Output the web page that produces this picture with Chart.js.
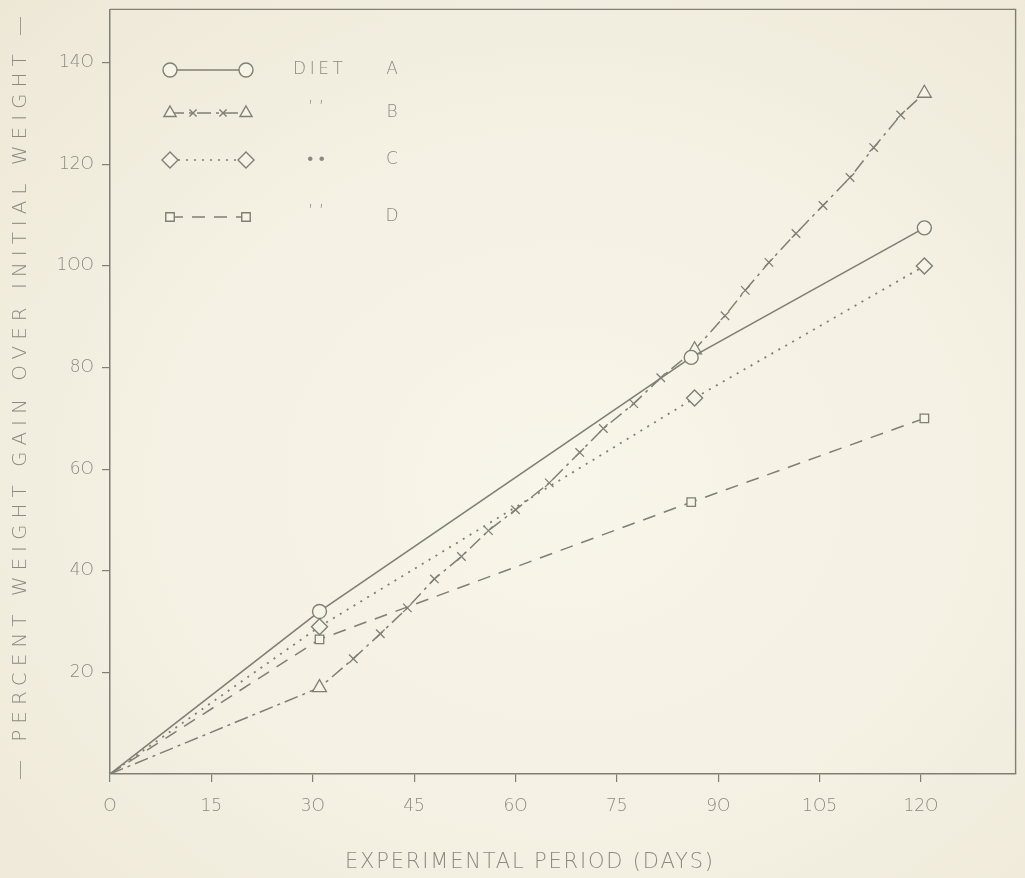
<!DOCTYPE html>
<html>
<head>
<meta charset="utf-8">
<script src="https://cdn.jsdelivr.net/npm/chart.js@4.4.1/dist/chart.umd.min.js"></script>
<style>
    html, body {
        margin: 0;
        padding: 0;
        width: 1025px;
        height: 878px;
        overflow: hidden;
        background: radial-gradient(ellipse at 55% 55%, #f8f5ea 0%, #f4f0e2 55%, #ede8d6 100%);
    }
    #wrap { position: relative; width: 1025px; height: 878px; }
</style>
</head>
<body>
<div id="wrap"><canvas id="gainChart" width="1025" height="878"></canvas></div>
<script>
// values
const xTicks = [0, 15, 30, 45, 60, 75, 90, 105, 120];
const yTicks = [20, 40, 60, 80, 100, 120, 140];

const dietADays = [0, 31, 86, 120.5];
const dietAGain = [0, 32, 82, 107.5];

const dietBDays = [0, 31, 36, 40, 44, 48, 52, 56, 60, 65, 69.5, 73, 77.5, 81.5, 86.5, 91, 94, 97.5, 101.5, 105.5, 109.5, 113, 117, 120.5];
const dietBGain = [0, 17, 22.7, 27.6, 32.7, 38.4, 42.8, 47.9, 52, 57.3, 63.3, 68, 72.9, 78, 83.5, 90.2, 95.2, 100.7, 106.4, 111.9, 117.4, 123.3, 129.7, 134];
const dietBMarked = [31, 86.5, 120.5];

const dietCDays = [0, 31, 86.5, 120.5];
const dietCGain = [0, 29, 74, 100];

const dietDDays = [0, 31, 86, 120.5];
const dietDGain = [0, 26.5, 53.5, 70];

const legendRows = [
    { name: 'DIET', letter: 'A' },
    { name: '\u2019 \u2019', letter: 'B' },
    { name: '\u2022 \u2022', letter: 'C' },
    { name: '\u2019 \u2019', letter: 'D' }
];

const ink = '#7f7f76';
const paper = '#f6f3e7';
const textInk = '#8a8a81';
const fontFamily = '"DejaVu Sans", "Liberation Sans", sans-serif';

function toPoints(days, gain) {
    return days.map((d, i) => ({ x: d, y: gain[i] }));
}

const dashA = [];
const dashB = [14, 5, 3, 5];
const dashC = [2, 6];
const dashD = [13, 9];

const datasets = [
    {
        label: 'Diet A',
        data: toPoints(dietADays, dietAGain),
        borderColor: ink,
        borderWidth: 1.6,
        borderDash: dashA,
        pointStyle: 'circle',
        pointRadius: ctx => ctx.dataIndex === 0 ? 0 : 7,
        pointBackgroundColor: paper,
        pointBorderColor: ink,
        pointBorderWidth: 1.4
    },
    {
        label: 'Diet B',
        data: toPoints(dietBDays, dietBGain),
        borderColor: ink,
        borderWidth: 1.5,
        borderDash: dashB,
        pointStyle: ctx => dietBMarked.includes(dietBDays[ctx.dataIndex]) ? 'triangle' : 'crossRot',
        pointRadius: ctx => {
            if (ctx.dataIndex === 0) return 0;
            return dietBMarked.includes(dietBDays[ctx.dataIndex]) ? 8 : 6;
        },
        pointBackgroundColor: paper,
        pointBorderColor: ink,
        pointBorderWidth: 1.3
    },
    {
        label: 'Diet C',
        data: toPoints(dietCDays, dietCGain),
        borderColor: ink,
        borderWidth: 1.8,
        borderDash: dashC,
        pointStyle: 'rectRot',
        pointRadius: ctx => ctx.dataIndex === 0 ? 0 : 8,
        pointBackgroundColor: paper,
        pointBorderColor: ink,
        pointBorderWidth: 1.4
    },
    {
        label: 'Diet D',
        data: toPoints(dietDDays, dietDGain),
        borderColor: ink,
        borderWidth: 1.5,
        borderDash: dashD,
        pointStyle: 'rect',
        pointRadius: ctx => ctx.dataIndex === 0 ? 0 : 6,
        pointBackgroundColor: paper,
        pointBorderColor: ink,
        pointBorderWidth: 1.3
    }
];

// spaced out text like a lettering guide
function spacedText(ctx, text, x, y, targetWidth) {
    ctx.letterSpacing = '0px';
    const plain = ctx.measureText(text).width;
    const gap = Math.max(0, (targetWidth - plain) / (text.length - 1));
    ctx.letterSpacing = gap + 'px';
    ctx.fillText(text, x + gap / 2, y);
    ctx.letterSpacing = '0px';
}

const framePlugin = {
    id: 'frame',
    afterDraw(chart) {
        const { ctx, chartArea } = chart;
        ctx.save();
        ctx.strokeStyle = ink;
        ctx.lineWidth = 1.4;
        ctx.beginPath();
        ctx.moveTo(chartArea.left, chartArea.top);
        ctx.lineTo(chartArea.right, chartArea.top);
        ctx.lineTo(chartArea.right, chartArea.bottom);
        ctx.stroke();

        // axis titles
        ctx.fillStyle = textInk;
        ctx.textBaseline = 'middle';
        ctx.textAlign = 'center';
        ctx.font = '300 21px ' + fontFamily;
        spacedText(ctx, 'EXPERIMENTAL PERIOD (DAYS)', 529, 863, 368);

        ctx.save();
        ctx.translate(21, 398);
        ctx.rotate(-Math.PI / 2);
        ctx.font = '300 20px ' + fontFamily;
        spacedText(ctx, '\u2014 PERCENT WEIGHT GAIN OVER INITIAL WEIGHT \u2014', 0, 0, 764);
        ctx.restore();

        // legend
        const rowsY = [70, 113, 160, 217];
        const xs = [170, 246];
        const drawMark = (style, r, x, y) => {
            Chart.helpers.drawPoint(ctx, {
                pointStyle: style, radius: r, borderWidth: 1.3, rotation: 0
            }, x, y);
        };
        ctx.strokeStyle = ink;
        ctx.fillStyle = paper;
        const styles = [
            ['circle', 7, dashA],
            ['triangle', 7, dashB],
            ['rectRot', 8, dashC],
            ['rect', 6, dashD]
        ];
        styles.forEach((s, i) => {
            const y = rowsY[i];
            ctx.save();
            ctx.setLineDash(s[2]);
            ctx.lineWidth = 1.5;
            ctx.beginPath();
            ctx.moveTo(xs[0], y);
            ctx.lineTo(xs[1], y);
            ctx.stroke();
            ctx.restore();
            ctx.fillStyle = paper;
            drawMark(s[0], s[1], xs[0], y);
            drawMark(s[0], s[1], xs[1], y);
            if (i === 1) {
                drawMark('crossRot', 5, 193, y);
                drawMark('crossRot', 5, 223, y);
            }
        });

        ctx.fillStyle = textInk;
        ctx.font = '300 17px ' + fontFamily;
        legendRows.forEach((row, i) => {
            const y = rowsY[i];
            ctx.textAlign = 'center';
            if (i === 0) {
                spacedText(ctx, row.name, 318, y, 50);
            } else {
                ctx.fillText(row.name, 316, y - (i === 2 ? 0 : 4));
            }
            ctx.fillText(row.letter, 392, y);
        });
        ctx.restore();
    }
};

new Chart(document.getElementById('gainChart'), {
    type: 'line',
    data: { datasets },
    options: {
        responsive: false,
        animation: false,
        layout: { padding: { left: 0, top: 9, right: -5, bottom: 0 } },
        plugins: {
            legend: { display: false },
            tooltip: { enabled: false }
        },
        elements: { line: { tension: 0 } },
        scales: {
            x: {
                type: 'linear',
                min: 0,
                max: 134,
                afterBuildTicks: scale => { scale.ticks = xTicks.map(v => ({ value: v })); },
                afterFit: scale => {
                    scale.height = 104;
                    scale.paddingLeft = 0;
                    scale.paddingRight = 0;
                },
                ticks: {
                    color: textInk,
                    font: { family: fontFamily, size: 17, weight: '300' },
                    padding: 14,
                    maxRotation: 0,
                    autoSkip: false,
                    callback: v => String(v).replace(/0/g, 'O')
                },
                grid: {
                    drawOnChartArea: false,
                    drawTicks: true,
                    tickLength: 8,
                    color: ink,
                    lineWidth: 1.2
                },
                border: { color: ink, width: 1.5 }
            },
            y: {
                type: 'linear',
                min: 0,
                max: 150.5,
                afterBuildTicks: scale => { scale.ticks = yTicks.map(v => ({ value: v })); },
                afterFit: scale => {
                    scale.width = 110;
                    scale.paddingTop = 0;
                    scale.paddingBottom = 0;
                },
                ticks: {
                    color: textInk,
                    font: { family: fontFamily, size: 17, weight: '300' },
                    padding: 8,
                    autoSkip: false,
                    callback: v => String(v).replace(/0/g, 'O')
                },
                grid: {
                    drawOnChartArea: false,
                    drawTicks: true,
                    tickLength: 8,
                    color: ink,
                    lineWidth: 1.2
                },
                border: { color: ink, width: 1.5 }
            }
        }
    },
    plugins: [framePlugin]
});
</script>
</body>
</html>
